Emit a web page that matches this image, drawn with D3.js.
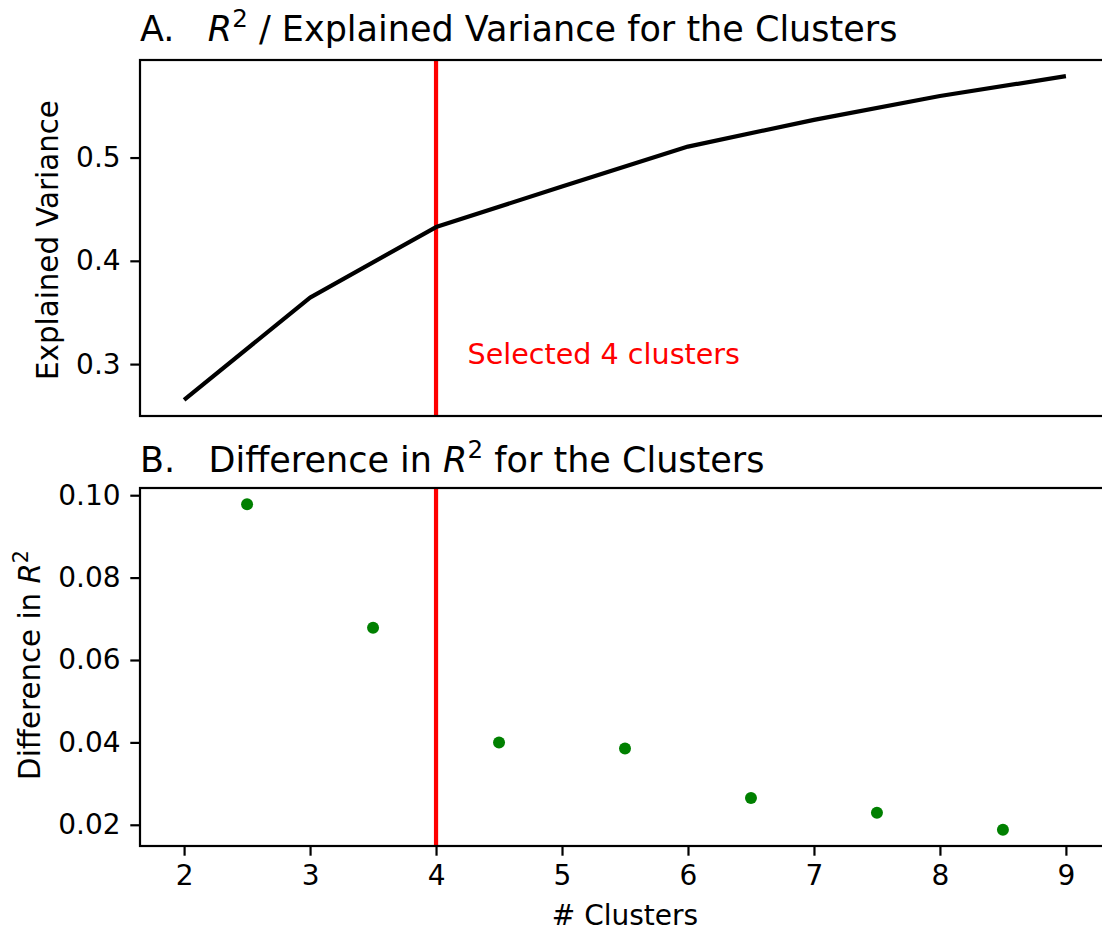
<!DOCTYPE html>
<html>
<head>
<meta charset="utf-8">
<script src="https://cdn.jsdelivr.net/npm/d3@7"></script>
<style>
  html, body { margin: 0; padding: 0; background: #fff; }
  svg { display: block; font-family: "DejaVu Sans", sans-serif; }
</style>
</head>
<body>
<svg id="chart" width="1102" height="933"></svg>
<script>
// Cluster counts and the explained variance (R^2) for each
const clusterCounts = [2, 3, 4, 5, 6, 7, 8, 9];
const explainedVariance = [0.2654, 0.3644, 0.4327, 0.4720, 0.5106, 0.5365, 0.5596, 0.5788];

// Midpoints between consecutive cluster counts and the gain in R^2
const diffPositions = [2.5, 3.5, 4.5, 5.5, 6.5, 7.5, 8.5];
const diffValues = [0.0978, 0.0678, 0.0400, 0.0385, 0.0265, 0.0229, 0.0188];

const selectedClusters = 4;
const xTicks = [2, 3, 4, 5, 6, 7, 8, 9];
const topYTicks = [0.3, 0.4, 0.5];
const bottomYTicks = [0.02, 0.04, 0.06, 0.08, 0.10];

const svg = d3.select("#chart");

const left = 140, right = 1110;
const topPanel = { top: 60, bottom: 416 };
const botPanel = { top: 488, bottom: 846 };

const tickFont = 28, labelFont = 29.3, titleFont = 35;
const tickLen = 9.7, tickPad = 9.7, spineW = 2.2;

// Padded extent, 5% on each side
function padded(values) {
  const [lo, hi] = d3.extent(values);
  const m = (hi - lo) * 0.05;
  return [lo - m, hi + m];
}

const x = d3.scaleLinear().domain(padded(clusterCounts)).range([left, right]);
const yTop = d3.scaleLinear().domain(padded(explainedVariance)).range([topPanel.bottom, topPanel.top]);
const yBot = d3.scaleLinear().domain(padded(diffValues)).range([botPanel.bottom, botPanel.top]);

function styleAxis(g) {
  g.selectAll(".domain").remove();
  g.selectAll(".tick line").attr("stroke", "#000").attr("stroke-width", spineW);
  g.selectAll(".tick text")
    .attr("fill", "#000")
    .style("font-size", tickFont + "px")
    .style("font-family", "DejaVu Sans, sans-serif");
}

function frame(p) {
  svg.append("rect")
    .attr("x", left).attr("y", p.top)
    .attr("width", right - left).attr("height", p.bottom - p.top)
    .attr("fill", "none").attr("stroke", "#000").attr("stroke-width", spineW);
}

// ---------- Panel A: explained variance ----------
svg.append("line")
  .attr("x1", x(selectedClusters)).attr("x2", x(selectedClusters))
  .attr("y1", topPanel.top).attr("y2", topPanel.bottom)
  .attr("stroke", "#ff0000").attr("stroke-width", 4.2);

svg.append("path")
  .datum(clusterCounts.map((c, i) => [c, explainedVariance[i]]))
  .attr("fill", "none")
  .attr("stroke", "#000")
  .attr("stroke-width", 4.2)
  .attr("stroke-linejoin", "round")
  .attr("d", d3.line().x(d => x(d[0])).y(d => yTop(d[1])));

svg.append("text")
  .attr("x", x(selectedClusters + 0.25)).attr("y", yTop(0.3))
  .attr("fill", "#ff0000")
  .style("font-size", "28.6px")
  .text("Selected 4 clusters");

frame(topPanel);

svg.append("g")
  .attr("transform", `translate(${left},0)`)
  .call(d3.axisLeft(yTop).tickValues(topYTicks).tickFormat(d3.format(".1f"))
    .tickSize(tickLen).tickPadding(tickPad))
  .call(styleAxis);

svg.append("text")
  .attr("transform", `translate(58,${(topPanel.top + topPanel.bottom) / 2 + 2}) rotate(-90)`)
  .attr("text-anchor", "middle")
  .style("font-size", labelFont + "px")
  .text("Explained Variance");

const titleA = svg.append("text")
  .attr("x", left).attr("y", 41)
  .style("font-size", titleFont + "px")
  .attr("xml:space", "preserve");
titleA.append("tspan").text("A.   ");
titleA.append("tspan").style("font-style", "italic").text("R");
titleA.append("tspan").attr("dy", -14).style("font-size", "24.5px").text("2");
titleA.append("tspan").attr("dy", 14).text(" / Explained Variance for the Clusters");

// ---------- Panel B: difference in R^2 ----------
svg.append("line")
  .attr("x1", x(selectedClusters)).attr("x2", x(selectedClusters))
  .attr("y1", botPanel.top).attr("y2", botPanel.bottom)
  .attr("stroke", "#ff0000").attr("stroke-width", 4.2);

svg.append("g")
  .selectAll("circle")
  .data(diffPositions.map((p, i) => [p, diffValues[i]]))
  .join("circle")
  .attr("cx", d => x(d[0]))
  .attr("cy", d => yBot(d[1]))
  .attr("r", 6)
  .attr("fill", "#008000");

frame(botPanel);

svg.append("g")
  .attr("transform", `translate(${left},0)`)
  .call(d3.axisLeft(yBot).tickValues(bottomYTicks).tickFormat(d3.format(".2f"))
    .tickSize(tickLen).tickPadding(tickPad))
  .call(styleAxis);

svg.append("g")
  .attr("transform", `translate(0,${botPanel.bottom})`)
  .call(d3.axisBottom(x).tickValues(xTicks).tickFormat(d3.format("d"))
    .tickSize(tickLen).tickPadding(tickPad))
  .call(styleAxis);

const yLabB = svg.append("text")
  .attr("transform", `translate(40,${(botPanel.top + botPanel.bottom) / 2 - 2}) rotate(-90)`)
  .attr("text-anchor", "middle")
  .style("font-size", labelFont + "px");
yLabB.append("tspan").text("Difference in ");
yLabB.append("tspan").style("font-style", "italic").text("R");
yLabB.append("tspan").attr("dy", -12).style("font-size", "20.5px").text("2");

svg.append("text")
  .attr("x", (left + right) / 2).attr("y", 925)
  .attr("text-anchor", "middle")
  .style("font-size", tickFont + "px")
  .text("# Clusters");

const titleB = svg.append("text")
  .attr("x", left).attr("y", 472)
  .style("font-size", titleFont + "px")
  .attr("xml:space", "preserve");
titleB.append("tspan").text("B.   Difference in ");
titleB.append("tspan").style("font-style", "italic").text("R");
titleB.append("tspan").attr("dy", -14).style("font-size", "24.5px").text("2");
titleB.append("tspan").attr("dy", 14).text(" for the Clusters");
</script>
</body>
</html>
